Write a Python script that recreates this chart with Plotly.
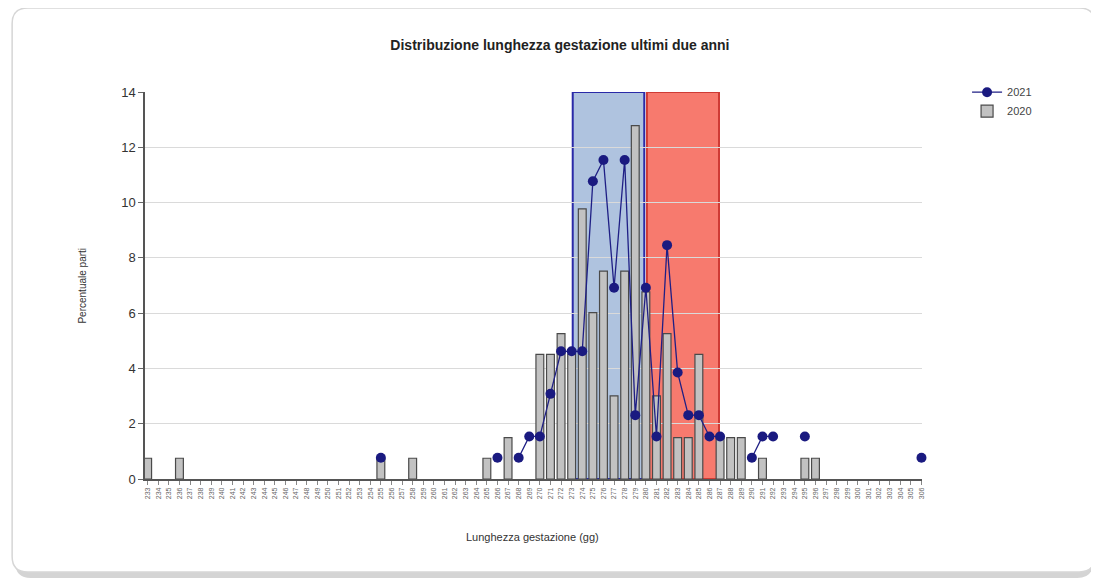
import plotly.graph_objects as go

# gestation length (days) on the x axis
giorni = list(range(233, 307))

# percent of births per day (None = no births that day)
perc_2021 = [
    None, None, None, None, None, None, None, None, None, None,
    None, None, None, None, None, None, None, None, None, None,
    None, None, 0.77, None, None, None, None, None, None, None,
    None, None, None, 0.77, None, 0.77, 1.54, 1.54, 3.08, 4.62,
    4.62, 4.62, 10.77, 11.54, 6.92, 11.54, 2.31, 6.92, 1.54, 8.46,
    3.85, 2.31, 2.31, 1.54, 1.54, None, None, 0.77, 1.54, 1.54,
    None, None, 1.54, None, None, None, None, None, None, None,
    None, None, None, 0.77,
]
perc_2020 = [
    0.75, None, None, 0.75, None, None, None, None, None, None,
    None, None, None, None, None, None, None, None, None, None,
    None, None, 0.75, None, None, 0.75, None, None, None, None,
    None, None, 0.75, None, 1.50, None, None, 4.51, 4.51, 5.26,
    4.51, 9.77, 6.02, 7.52, 3.01, 7.52, 12.78, 6.77, 3.01, 5.26,
    1.50, 1.50, 4.51, None, 1.50, 1.50, 1.50, None, 0.75, None,
    None, None, 0.75, 0.75, None, None, None, None, None, None,
    None, None, None, None,
]

# highlighted weeks (category index ranges)
fascia_blu = (40.1, 46.85)
fascia_rossa = (47.1, 53.9)

idx = list(range(len(giorni)))
FONT = "Liberation Sans, Arial, sans-serif"


def rounded_rect(x0, x1, y0, y1, rx, ry):
    # svg path of a rounded rectangle in paper coordinates
    return (f"M {x0 + rx},{y1} L {x1 - rx},{y1} Q {x1},{y1} {x1},{y1 - ry} "
            f"L {x1},{y0 + ry} Q {x1},{y0} {x1 - rx},{y0} "
            f"L {x0 + rx},{y0} Q {x0},{y0} {x0},{y0 + ry} "
            f"L {x0},{y1 - ry} Q {x0},{y1} {x0 + rx},{y1} Z")


fig = go.Figure()

fig.add_trace(go.Scatter(
    x=idx, y=perc_2021, name="2021", mode="lines+markers",
    line=dict(color="#1f1f85", width=1.3),
    marker=dict(color="#1a1a80", size=10),
    connectgaps=False, cliponaxis=False,
))
fig.add_trace(go.Bar(
    x=idx, y=perc_2020, name="2020", width=0.74,
    marker=dict(color="#c2c2c2", line=dict(color="#4a4a4a", width=1.2)),
))

# shaded week bands
fig.add_shape(type="rect", xref="x", yref="y", layer="below",
              x0=fascia_blu[0], x1=fascia_blu[1], y0=0, y1=14,
              fillcolor="#afc3df", line=dict(color="#2a2aa8", width=2))
fig.add_shape(type="rect", xref="x", yref="y", layer="below",
              x0=fascia_rossa[0], x1=fascia_rossa[1], y0=0, y1=14,
              fillcolor="#f77a6e", line=dict(color="#cf3b35", width=2))

# card with soft bottom shadow around the whole chart
fig.add_shape(type="path", xref="paper", yref="paper", layer="below",
              path=rounded_rect(-0.167, 1.22, -0.256, 1.1, 0.02, 0.04),
              fillcolor="#d4d4d4", line=dict(width=0))
fig.add_shape(type="path", xref="paper", yref="paper", layer="below",
              path=rounded_rect(-0.171, 1.2225, -0.24, 1.217, 0.02, 0.04),
              fillcolor="white", line=dict(color="#d6d6d6", width=1.5))

fig.add_annotation(text="Percentuale parti", xref="paper", yref="paper",
                   x=-0.081, y=0.5, xanchor="center", yanchor="middle",
                   textangle=-90, showarrow=False,
                   font=dict(family=FONT, size=10, color="#333"))
fig.add_annotation(text="Lunghezza gestazione (gg)", xref="paper", yref="paper",
                   x=0.499, y=-0.15, xanchor="center", yanchor="middle",
                   showarrow=False,
                   font=dict(family=FONT, size=11, color="#333"))

fig.update_xaxes(
    range=[-0.25, 73.05], tickmode="array", tickvals=idx,
    ticktext=[str(g) for g in giorni], tickangle=-90,
    tickfont=dict(family=FONT, size=7, color="#666"),
    ticks="outside", ticklen=4, tickcolor="#888",
    showline=True, linecolor="#555", linewidth=1.5,
    showgrid=False, zeroline=False,
)
fig.update_yaxes(
    range=[0, 14], dtick=2,
    tickfont=dict(family=FONT, size=13, color="#333"),
    ticks="outside", ticklen=5, tickcolor="#666",
    showline=True, linecolor="#555", linewidth=1.5,
    showgrid=True, gridcolor="#dadada", gridwidth=1, zeroline=False,
)

# the page adds an 8px body margin, so margins are shifted to compensate
fig.update_layout(
    width=1099, height=580,
    margin=dict(l=137, r=185, t=84, b=109),
    paper_bgcolor="white", plot_bgcolor="rgba(0,0,0,0)",
    title=dict(text="<b>Distribuzione lunghezza gestazione ultimi due anni</b>",
               x=0.534, xref="paper", y=0.936, yanchor="middle",
               font=dict(family=FONT, size=14, color="#222")),
    legend=dict(x=1.058, y=1.037, xanchor="left", yanchor="top",
                font=dict(family=FONT, size=11, color="#444"),
                tracegroupgap=2, itemwidth=30),
    bargap=0.3,
    showlegend=True,
)

fig.write_html("out.html")
